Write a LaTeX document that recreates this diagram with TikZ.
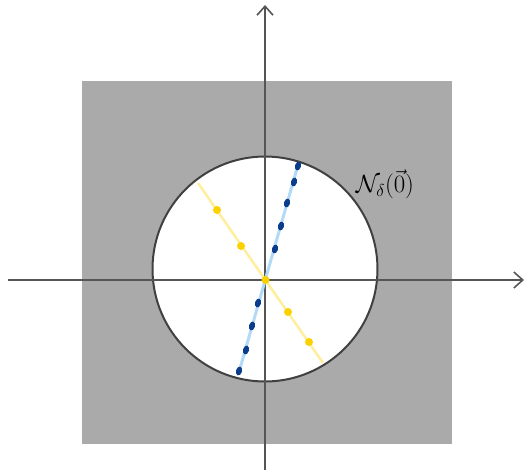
\documentclass[tikz,border=0pt]{standalone}
\usetikzlibrary{arrows.meta}
\definecolor{boxgray}{HTML}{AAAAAA}
\definecolor{axisgray}{HTML}{555555}
\definecolor{lineblue}{HTML}{B3DBF7}
\definecolor{dotblue}{HTML}{0B3D8C}
\definecolor{lineyellow}{HTML}{FFEE9C}
\definecolor{dotyellow}{HTML}{FBD200}
\tikzset{
  axisline/.style={draw=axisgray, line width=1.6pt, -{Straight Barb[length=9pt,width=16pt,line width=1.6pt]}},
  bluedot/.style={ellipse, fill=dotblue, inner sep=0pt, minimum width=6pt, minimum height=9pt},
  yellowdot/.style={circle, fill=dotyellow, inner sep=0pt, minimum size=8pt},
  ballrim/.style={draw=black!75, line width=2pt, fill=white}
}
\usetikzlibrary{shapes.geometric}
\begin{document}
\begin{tikzpicture}[x=1pt,y=-1pt]
\useasboundingbox (0,0) rectangle (525,471);
% gray square
\fill[boxgray] (82,81) rectangle (452,444);
% ball
\node[ballrim, circle, minimum size=225pt, inner sep=0pt] (ball) at (265,269) {};
% axes
\coordinate (xs) at (8,280);
\coordinate (xe) at (524,280);
\coordinate (ys) at (265,470);
\coordinate (ye) at (265,5);
\draw[axisline] (xs) -- (xe);
\draw[axisline] (ys) -- (ye);
% lines
\coordinate (o) at (265.5,280);
\coordinate (b1) at (298,165);
\coordinate (b2) at (239,372);
\coordinate (y1) at (198,183);
\coordinate (y2) at (323,363);
\draw[lineyellow, line width=2.5pt] (y1) -- (y2);
\draw[lineblue, line width=3pt] (b1) -- (b2);
% blue dots
\foreach \p [count=\i] in {(298,166),(294,182),(287,203),(281,226),(275,249),(258,303),(252,326),(246,350),(239,371)}
  \node[bluedot, rotate=-16] (bd\i) at \p {};
% yellow dots
\foreach \p [count=\i] in {(217,210),(241,246),(288,312),(309,342)}
  \node[yellowdot] (yd\i) at \p {};
\node[yellowdot] (yd0) at (o) {};
% label
\node[font=\fontsize{26}{28}\selectfont] (lab) at (385,184) {$\mathcal{N}_\delta(\vec{0})$};
\end{tikzpicture}
\end{document}
